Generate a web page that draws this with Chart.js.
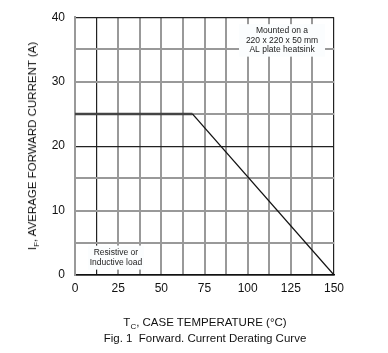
<!DOCTYPE html>
<html><head><meta charset="utf-8">
<script src="https://cdn.jsdelivr.net/npm/chart.js@4/dist/chart.umd.min.js"></script>
<style>
html,body{margin:0;padding:0;background:#fff;}
#wrap{position:relative;width:388px;height:353px;font-family:"Liberation Sans",Arial,sans-serif;color:#111;}
canvas{position:absolute;left:0;top:0;}
.t{position:absolute;white-space:nowrap;font-size:11.5px;}
sub{font-size:8px;vertical-align:-3px;line-height:0;}
</style></head><body>
<div id="wrap">
<canvas id="c" width="388" height="353"></canvas>
<div class="t" id="ytitle" style="left:32px;top:146px;transform:translate(-50%,-50%) rotate(-90deg);">I<sub>F</sub>, AVERAGE FORWARD CURRENT (A)</div>
<div class="t" style="left:205px;top:322px;transform:translate(-50%,-50%);">T<sub>C</sub>, CASE TEMPERATURE (°C)</div>
<div class="t" style="left:205px;top:338px;transform:translate(-50%,-50%);">Fig. 1&nbsp; Forward. Current Derating Curve</div>
</div>
<script>
const tempC = [0, 68, 150];
const currentA = [25, 25, 0];
const xTicks = [0, 25, 50, 75, 100, 125, 150];
const yTicks = [0, 10, 20, 30, 40];
const noteHeatsink = ["Mounted on a", "220 x 220 x 50 mm", "AL plate heatsink"];
const noteLoad = ["Resistive or", "Inductive load"];

const points = tempC.map((x, i) => ({x, y: currentA[i]}));

const notes = {
  id: 'notes',
  afterDatasetsDraw(chart) {
    const ctx = chart.ctx, xs = chart.scales.x, ys = chart.scales.y;
    function box(lines, cx, cy, w, lh) {
      const px = xs.getPixelForValue(cx), py = ys.getPixelForValue(cy);
      const h = lines.length * lh + 4;
      ctx.save();
      ctx.fillStyle = '#fbfdfe';
      ctx.fillRect(px - w / 2, py - h / 2, w, h);
      ctx.fillStyle = '#222';
      ctx.font = '8.5px "Liberation Sans", Arial, sans-serif';
      ctx.textAlign = 'center';
      ctx.textBaseline = 'middle';
      lines.forEach((l, i) => ctx.fillText(l, px, py - h / 2 + 2 + lh * (i + 0.5)));
      ctx.restore();
    }
    box(noteHeatsink, 119.9, 36.4, 86, 9.5);
    box(noteLoad, 23.7, 2.7, 56, 10);
  }
};

const blackX = [12.5, 150];
const blackY = [20, 40];

new Chart(document.getElementById('c'), {
  type: 'scatter',
  data: { datasets: [{ data: points, showLine: true, borderColor: '#111', borderWidth: 1.3, pointRadius: 0, tension: 0,
    segment: {
      borderColor: (c) => c.p0.parsed.y === c.p1.parsed.y ? '#444' : '#111',
      borderWidth: (c) => c.p0.parsed.y === c.p1.parsed.y ? 2.5 : 1.3
    } }] },
  options: {
    responsive: false, animation: false, devicePixelRatio: 1,
    layout: { padding: { left: 0, top: 16, right: 54, bottom: 0 } },
    plugins: { legend: { display: false }, tooltip: { enabled: false } },
    scales: {
      x: {
        type: 'linear', min: 0, max: 150,
        afterBuildTicks(s) { s.ticks = []; for (let v = 0; v <= 150; v += 12.5) s.ticks.push({value: v}); },
        afterFit(s) { s.height = 78; },
        ticks: { autoSkip: false, maxRotation: 0, padding: 6, color: '#111', font: { size: 12, family: '"Liberation Sans", Arial' },
          callback: (v) => xTicks.includes(v) ? String(v) : '' },
        grid: { color: (c) => c.tick && blackX.includes(c.tick.value) ? '#222' : '#999',
                lineWidth: (c) => c.tick && blackX.includes(c.tick.value) ? 1.2 : 2, drawTicks: false },
        border: { color: '#111', width: 1.5 }
      },
      y: {
        type: 'linear', min: 0, max: 40,
        afterBuildTicks(s) { s.ticks = []; for (let v = 0; v <= 40; v += 5) s.ticks.push({value: v}); },
        afterFit(s) { s.width = 75; },
        ticks: { autoSkip: false, padding: 10, color: '#111', font: { size: 12, family: '"Liberation Sans", Arial' },
          callback: (v) => yTicks.includes(v) ? String(v) : '' },
        grid: { color: (c) => c.tick && blackY.includes(c.tick.value) ? '#222' : '#999',
                lineWidth: (c) => c.tick && blackY.includes(c.tick.value) ? 1.2 : 2, drawTicks: false },
        border: { color: '#999', width: 2 }
      }
    }
  },
  plugins: [notes]
});
</script>
</body></html>
